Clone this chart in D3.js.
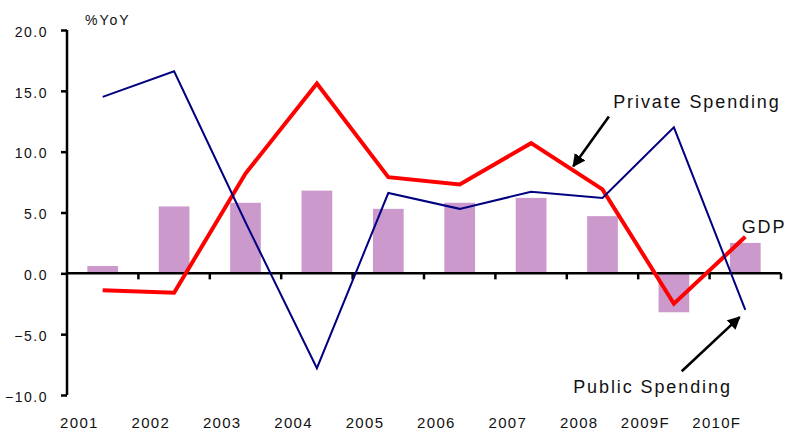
<!DOCTYPE html>
<html>
<head>
<meta charset="utf-8">
<script src="https://cdn.jsdelivr.net/npm/d3@7"></script>
<style>
  html, body { margin: 0; padding: 0; background: #fff; }
  svg text { font-family: "Liberation Sans", Arial, sans-serif; fill: #111; }
</style>
</head>
<body>
<svg id="chart" width="786" height="430"></svg>
<script>
// ---- data ----
const years = ["2001","2002","2003","2004","2005","2006","2007","2008","2009F","2010F"];
const gdp = [0.6, 5.5, 5.8, 6.8, 5.3, 5.8, 6.2, 4.7, -3.2, 2.5];
const privateSpending = [-1.4, -1.6, 8.2, 15.6, 7.9, 7.3, 10.7, 6.9, -2.5, 3.0];
const publicSpending = [14.5, 16.6, 4.2, -7.8, 6.6, 5.3, 6.7, 6.2, 12.0, -3.0];
const yTicks = [-10, -5, 0, 5, 10, 15, 20];
const yUnit = "%YoY";

// annotations in data units (category index, value)
const labels = [
  { text: "Private Spending", i: 7.65, v: 13.6 },
  { text: "Public Spending", i: 7.09, v: -9.85 },
  { text: "GDP", i: 9.45, v: 3.28 }
];
const arrows = [
  { i0: 7.59, v0: 12.9, i1: 7.09, v1: 8.8 },
  { i0: 8.61, v0: -8.05, i1: 9.42, v1: -3.6 }
];

(function () {
const svg = d3.select("#chart");
const mLeft = 67, mRight = 781, mTop = 30, mBottom = 395;

const x = d3.scaleBand().domain(years).range([mLeft, mRight]).padding(0);
const xi = d3.scaleLinear().domain([0, years.length]).range([mLeft, mRight]);
const y = d3.scaleLinear().domain([-10, 20]).range([mBottom, mTop]);
const bw = x.bandwidth() * 0.43;
const cx = d => x(d) + x.bandwidth() / 2;

// bars
svg.append("g").selectAll("rect").data(years).join("rect")
  .attr("x", (d) => cx(d) - bw / 2)
  .attr("width", bw)
  .attr("y", (d, i) => y(Math.max(0, gdp[i])))
  .attr("height", (d, i) => Math.abs(y(gdp[i]) - y(0)))
  .attr("fill", "#CC99CC");

// y axis
const yAxis = d3.axisLeft(y).tickValues(yTicks).tickFormat(d3.format(".1f")).tickSize(6).tickPadding(13);
const gy = svg.append("g").attr("transform", `translate(${mLeft},0)`).call(yAxis);
gy.select(".domain").attr("stroke", "#000").attr("stroke-width", 2.5).attr("d", `M0,${mTop}V${mBottom}`);
gy.selectAll(".tick line").attr("stroke", "#000").attr("stroke-width", 2.5);
gy.selectAll(".tick text").attr("font-size", 14).attr("letter-spacing", 1.5)
  .attr("font-family", "Liberation Sans, Arial, sans-serif").attr("fill", "#111").attr("dy", "0.45em");

// zero line axis with ticks at category boundaries
const gx = svg.append("g").attr("transform", `translate(0,${y(0)})`);
gx.append("line").attr("x1", mLeft).attr("x2", mRight).attr("stroke", "#000").attr("stroke-width", 2.5);
gx.selectAll("line.t").data(d3.range(1, years.length + 1)).join("line").attr("class", "t")
  .attr("x1", d => xi(d)).attr("x2", d => xi(d)).attr("y1", 0).attr("y2", 6)
  .attr("stroke", "#000").attr("stroke-width", 2.5);

// year labels at bottom
svg.append("g").selectAll("text").data(years).join("text")
  .attr("x", d => cx(d) - 4)
  .attr("y", 428)
  .attr("text-anchor", "end")
  .attr("font-size", 15)
  .attr("letter-spacing", 1.3)
  .text(d => d);

// unit label
svg.append("text").attr("x", 85).attr("y", 25).attr("font-size", 14).attr("letter-spacing", 2).text(yUnit);

// lines
const line = d3.line().x((d, i) => cx(years[i])).y(d => y(d));
svg.append("path").datum(privateSpending).attr("d", line)
  .attr("fill", "none").attr("stroke", "#FF0000").attr("stroke-width", 4).attr("stroke-linejoin", "miter");
svg.append("path").datum(publicSpending).attr("d", line)
  .attr("fill", "none").attr("stroke", "#000080").attr("stroke-width", 2).attr("stroke-linejoin", "miter");

// arrow marker
svg.append("defs").append("marker")
  .attr("id", "ah").attr("viewBox", "0 0 10 10").attr("refX", 9).attr("refY", 5)
  .attr("markerWidth", 5).attr("markerHeight", 5).attr("orient", "auto")
  .attr("markerUnits", "strokeWidth")
  .append("path").attr("d", "M0,0L10,5L0,10Z").attr("fill", "#000");

svg.append("g").selectAll("line").data(arrows).join("line")
  .attr("x1", d => xi(d.i0)).attr("y1", d => y(d.v0))
  .attr("x2", d => xi(d.i1)).attr("y2", d => y(d.v1))
  .attr("stroke", "#000").attr("stroke-width", 2.6)
  .attr("marker-end", "url(#ah)");

// annotation labels
svg.append("g").selectAll("text").data(labels).join("text")
  .attr("x", d => xi(d.i)).attr("y", d => y(d.v))
  .attr("font-size", 18).attr("letter-spacing", 1.9)
  .text(d => d.text);
})();
</script>
</body>
</html>
